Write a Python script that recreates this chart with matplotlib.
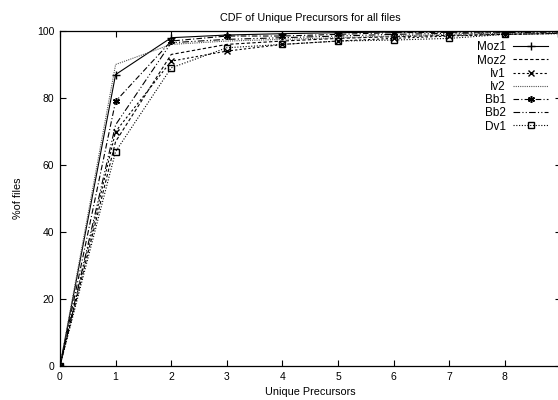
import numpy as np
import matplotlib
matplotlib.use('Agg')
import matplotlib.pyplot as plt

# font setting
plt.rcParams['font.family'] = ['Liberation Sans', 'DejaVu Sans']

# data
x = [0, 1, 2, 3, 4, 5, 6, 7, 8, 9]
moz1 = [0, 87, 98, 98.8, 99.2, 99.5, 99.7, 99.8, 99.9, 100]
moz2 = [0, 67, 93, 96, 97, 97.8, 98.3, 98.7, 99, 99.3]
iv1 = [0, 70, 91, 94, 96, 97, 97.8, 98.5, 99, 99.3]
iv2 = [0, 90, 96, 97, 97.5, 98, 98.5, 99, 99.3, 99.5]
bb1 = [0, 79, 97, 98.5, 98.5, 99, 99.5, 99.6, 99.7, 99.8]
bb2 = [0, 72, 96.5, 97.5, 98, 98.5, 99, 99.3, 99.5, 99.7]
dv1 = [0, 64, 89, 95, 96, 97, 97.3, 97.8, 99, 99.2]

names = ['Moz1', 'Moz2', 'Iv1', 'Iv2', 'Bb1', 'Bb2', 'Dv1']
series = [moz1, moz2, iv1, iv2, bb1, bb2, dv1]
styles = [
    dict(ls='-', marker='+', ms=6),
    dict(ls=(0, (3, 2)), marker=None),
    dict(ls=(0, (2, 2)), marker='x', ms=4),
    dict(ls=(0, (1, 1)), marker=None, color='#555555'),
    dict(ls=(0, (5, 2, 1, 2)), marker=(6, 2, 0), ms=5, mew=1.1),
    dict(ls=(0, (6, 2, 1, 2, 1, 2)), marker=None),
    dict(ls=(0, (1, 1.5)), marker='s', ms=4, mfc='none'),
]

fig = plt.figure(figsize=(5.58, 4.0), dpi=100)
ax = fig.add_axes([0.1075, 0.085, 0.897, 0.8375])

for name, y, st in zip(names, series, styles):
    st = dict(st)
    color = st.pop('color', 'black')
    ax.plot(x, y, color=color, lw=0.8, mec='black', label=name, **st)

ax.set_xlim(0, 9)
ax.set_ylim(0, 100)
ax.set_xticks(range(0, 9))
ax.set_yticks(range(0, 101, 20))
ax.tick_params(direction='in', top=True, right=True, length=4, width=0.8,
               labelsize=7.5, pad=4)
for s in ax.spines.values():
    s.set_linewidth(0.9)

ax.set_title('CDF of Unique Precursors for all files', fontsize=7.8, pad=7)
ax.set_xlabel('Unique Precursors', fontsize=7.8, labelpad=4)
ax.set_ylabel('%of files', fontsize=7.8, labelpad=10)

ax.legend(loc='upper right', bbox_to_anchor=(0.99, 0.99), frameon=False,
          markerfirst=False, fontsize=8.5, handlelength=3.0, handletextpad=0.6,
          labelspacing=0.1, borderaxespad=0.2)

fig.savefig('out.png', dpi=100)
